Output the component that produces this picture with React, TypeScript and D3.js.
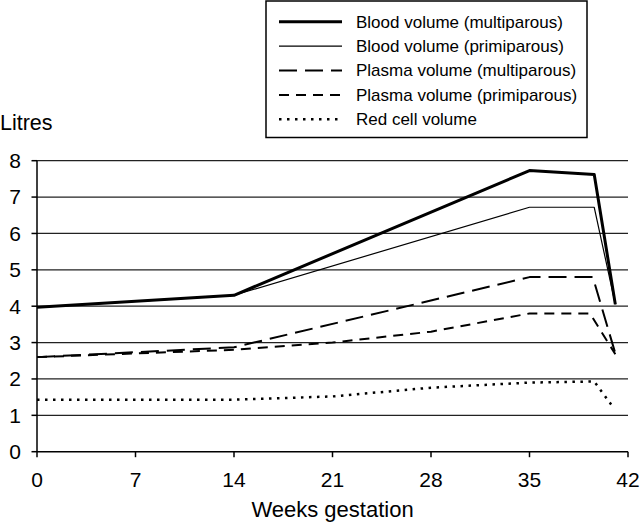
import React from "react";
import * as d3 from "d3";

const xTicks = [0, 7, 14, 21, 28, 35, 42];
const yTicks = [0, 1, 2, 3, 4, 5, 6, 7, 8];

const bloodMultiWeeks = [0, 14, 35, 39.6, 41.1];
const bloodMultiValues = [3.97, 4.3, 7.73, 7.62, 4.05];

const bloodPrimiWeeks = [0, 14, 35, 39.6, 41.1];
const bloodPrimiValues = [3.97, 4.3, 6.72, 6.72, 4.05];

const plasmaMultiWeeks = [0, 14, 35, 39.5, 41.1];
const plasmaMultiValues = [2.6, 2.87, 4.8, 4.8, 2.7];

const plasmaPrimiWeeks = [0, 14, 21, 28, 35, 39.3, 41.1];
const plasmaPrimiValues = [2.6, 2.8, 3.0, 3.3, 3.8, 3.8, 2.68];

const redCellWeeks = [0, 14, 21, 28, 35, 39.6, 40.8];
const redCellValues = [1.43, 1.43, 1.52, 1.76, 1.9, 1.93, 1.3];

const seriesNames = [
  "Blood volume (multiparous)",
  "Blood volume (primiparous)",
  "Plasma volume (multiparous)",
  "Plasma volume (primiparous)",
  "Red cell volume",
];

const styles = [
  { width: 3, dash: "none" },
  { width: 1.2, dash: "none" },
  { width: 2, dash: "18 8" },
  { width: 2, dash: "10 7" },
  { width: 2.5, dash: "2.5 5.5" },
];

const FONT = "'Liberation Sans', Arial, Helvetica, sans-serif";

export default function App() {
  const W = 640;
  const H = 523;
  const x = d3.scaleLinear().domain([0, 42]).range([37, 628]);
  const y = d3.scaleLinear().domain([0, 8]).range([451.7, 160.7]);

  const series = [
    { w: bloodMultiWeeks, v: bloodMultiValues },
    { w: bloodPrimiWeeks, v: bloodPrimiValues },
    { w: plasmaMultiWeeks, v: plasmaMultiValues },
    { w: plasmaPrimiWeeks, v: plasmaPrimiValues },
    { w: redCellWeeks, v: redCellValues },
  ];

  const line = d3
    .line<[number, number]>()
    .x((d) => x(d[0]))
    .y((d) => y(d[1]));

  const legendX0 = 279;
  const legendX1 = 342;
  const legendTextX = 356;
  const legendRowY = (i: number) => 21.7 + i * 24.4;

  return (
    <svg
      width={W}
      height={H}
      style={{ position: "absolute", left: 0, top: 0, background: "#fff" }}
      fontFamily={FONT}
    >
      <rect x={0} y={0} width={W} height={H} fill="#fff" />
      {yTicks
        .filter((t) => t > 0)
        .map((t) => (
          <line
            key={"g" + t}
            x1={x(0)}
            x2={x(42)}
            y1={y(t)}
            y2={y(t)}
            stroke="#222"
            strokeWidth={1.3}
          />
        ))}
      <line x1={x(0)} x2={x(0)} y1={y(0)} y2={y(8)} stroke="#000" strokeWidth={1.5} />
      {yTicks.map((t) => (
        <g key={"y" + t}>
          <line x1={x(0) - 5.5} x2={x(0)} y1={y(t)} y2={y(t)} stroke="#000" strokeWidth={1.5} />
          <text
            x={21}
            y={y(t)}
            dy="0.35em"
            textAnchor="end"
            fontSize={21}
            fill="#000"
          >
            {t}
          </text>
        </g>
      ))}
      <line x1={x(0)} x2={x(42)} y1={y(0)} y2={y(0)} stroke="#000" strokeWidth={1.5} />
      {xTicks.map((t) => (
        <g key={"x" + t}>
          <line x1={x(t)} x2={x(t)} y1={y(0)} y2={y(0) + 5.5} stroke="#000" strokeWidth={1.5} />
          <text x={x(t)} y={487} textAnchor="middle" fontSize={21} fill="#000">
            {t}
          </text>
        </g>
      ))}
      <text x={(x(0) + x(42)) / 2} y={517} textAnchor="middle" fontSize={22} fill="#000">
        Weeks gestation
      </text>
      <text x={0} y={130} fontSize={21.5} fill="#000">
        Litres
      </text>

      {series.map((s, i) => (
        <path
          key={"s" + i}
          d={line(s.w.map((w, j) => [w, s.v[j]] as [number, number])) || ""}
          fill="none"
          stroke="#000"
          strokeWidth={styles[i].width}
          strokeDasharray={styles[i].dash}
          strokeLinejoin="round"
        />
      ))}

      <rect x={266} y={1} width={321} height={136.5} fill="#fff" stroke="#000" strokeWidth={1.5} />
      {seriesNames.map((n, i) => (
        <g key={"l" + i}>
          <line
            x1={legendX0}
            x2={legendX1}
            y1={legendRowY(i)}
            y2={legendRowY(i)}
            stroke="#000"
            strokeWidth={styles[i].width}
            strokeDasharray={styles[i].dash}
          />
          <text x={legendTextX} y={legendRowY(i) + 5.8} fontSize={17} fill="#000">
            {n}
          </text>
        </g>
      ))}
    </svg>
  );
}
